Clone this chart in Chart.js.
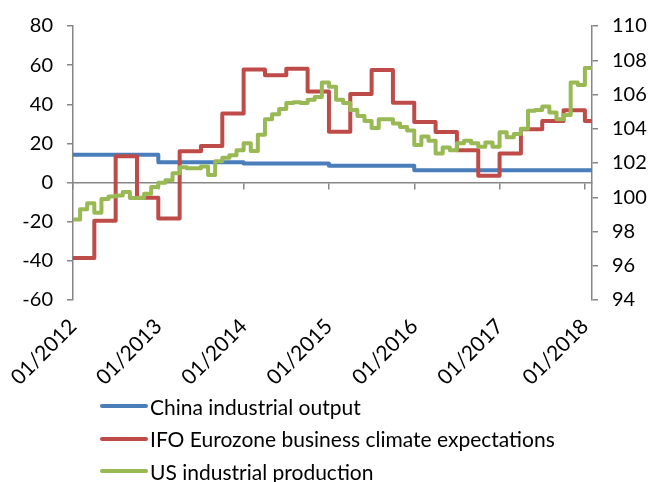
<!DOCTYPE html>
<html lang="en">
<head>
<meta charset="UTF-8">
<title>Industrial output vs business climate</title>
<script src="https://cdn.jsdelivr.net/npm/chart.js"></script>
<style>
    body { margin: 0; background: #fff; }
    .wrap { position: relative; width: 664px; height: 482px; }
    .legend {
        position: absolute;
        left: 100px;
        top: 390px;
        font-family: Lato, sans-serif;
        font-size: 21px;
        color: #000;
    }
    .legend div { height: 32.5px; display: flex; align-items: center; }
    .legend span.sw { display: inline-block; width: 48px; height: 4px; border-radius: 2px; margin-right: 2px; }
</style>
</head>
<body>
<div class="wrap">
    <canvas id="chart" width="664" height="482"></canvas>
    <div class="legend" id="legend"></div>
</div>
<script>
// x axis: months since 01/2012
const xLabels = ['01/2012', '01/2013', '01/2014', '01/2015', '01/2016', '01/2017', '01/2018'];
const lastMonth = 73;

// China industrial output (yearly, % y/y)
const chinaValues = [14.2, 10.4, 9.7, 8.6, 6.3, 6.3, 6.3];

// IFO Eurozone business climate expectations (quarterly)
const ifoValues = [-38.5, -19.5, 13.5, -7.8, -18.3, 16, 18.7, 35.3, 57.8, 54.8, 58.2, 46.5,
    26, 45.3, 57.5, 40.8, 31, 25.8, 16.5, 3.5, 14.8, 27.3, 31.5, 37, 31.5];

// US industrial production (monthly index, right axis)
const usValues = [98.7, 99.3, 99.65, 99.1, 99.9, 100.05, 100.1, 100.3, 99.95, 99.95, 100.2, 100.6,
    100.85, 101.0, 101.4, 101.75, 101.7, 101.7, 101.8, 101.3, 102.1, 102.3, 102.45, 102.75,
    103.15, 102.7, 103.65, 104.55, 104.85, 105.15, 105.5, 105.55, 105.5, 105.7, 105.85, 106.7,
    106.45, 105.7, 105.5, 105.1, 104.75, 104.45, 104.05, 104.55, 104.55, 104.3, 104.1, 103.9,
    103.05, 103.55, 103.3, 102.55, 102.9, 102.75, 103.15, 103.3, 103.15, 102.95, 103.2, 102.95,
    103.8, 103.5, 103.7, 104.0, 105.05, 105.1, 105.3, 104.95, 104.55, 104.8, 106.7, 106.55,
    107.55];

// turn values into step points (each value holds until the next one)
function steps(values, every) {
    const pts = values.map((v, i) => ({ x: i * every, y: v }));
    pts.push({ x: lastMonth, y: values[values.length - 1] });
    return pts;
}

const axisGrey = '#868686';
const font = { family: 'Lato, sans-serif', size: 20 };

const datasets = [
    { label: 'China industrial output', data: steps(chinaValues, 12), borderColor: '#4a7ebb', yAxisID: 'y', order: 3 },
    { label: 'IFO Eurozone business climate expectations', data: steps(ifoValues, 3), borderColor: '#be4b48', yAxisID: 'y', order: 2 },
    { label: 'US industrial production', data: steps(usValues, 1), borderColor: '#98b954', yAxisID: 'y2', order: 1 }
];
datasets.forEach(d => {
    d.stepped = true;
    d.borderWidth = 4;
    d.pointRadius = 0;
    d.fill = false;
    d.borderJoinStyle = 'round';
    d.borderCapStyle = 'round';
});

const chart = new Chart(document.getElementById('chart'), {
    type: 'line',
    data: { datasets: datasets },
    options: {
        responsive: false,
        animation: false,
        layout: { padding: { top: 20, left: 0, right: 0, bottom: 0 } },
        plugins: { legend: { display: false }, tooltip: { enabled: false } },
        scales: {
            x: {
                type: 'linear',
                min: 0,
                max: lastMonth,
                grid: { display: false },
                border: { display: false },
                ticks: {
                    stepSize: 12,
                    includeBounds: false,
                    autoSkip: false,
                    maxRotation: 45,
                    minRotation: 45,
                    padding: 6,
                    color: '#000',
                    font: { family: 'Lato, sans-serif', size: 21 },
                    callback: v => xLabels[v / 12] || ''
                },
                afterFit: s => { s.height = 182; }
            },
            // axis line through zero with its tick marks
            x2: {
                type: 'linear',
                position: { y: 0 },
                min: 0,
                max: lastMonth,
                grid: { drawOnChartArea: false, drawTicks: true, tickLength: 6, color: axisGrey, lineWidth: 1.5 },
                border: { color: axisGrey, width: 1.5 },
                ticks: { stepSize: 12, includeBounds: false, display: false }
            },
            y: {
                position: 'left',
                min: -60,
                max: 80,
                grid: { drawOnChartArea: false, tickLength: 6, color: axisGrey, lineWidth: 1.5 },
                border: { color: axisGrey, width: 1.5 },
                ticks: { stepSize: 20, padding: 14, color: '#000', font: font },
                afterFit: s => { s.width = 73; }
            },
            y2: {
                position: 'right',
                min: 94,
                max: 110,
                grid: { drawOnChartArea: false, tickLength: 6, color: axisGrey, lineWidth: 1.5 },
                border: { color: axisGrey, width: 1.5 },
                ticks: { stepSize: 2, padding: 14, color: '#000', font: font },
                afterFit: s => { s.width = 72; }
            }
        }
    }
});

// legend stacked like the original
const legend = document.getElementById('legend');
chart.data.datasets.forEach(ds => {
    const row = document.createElement('div');
    row.innerHTML = '<span class="sw" style="background:' + ds.borderColor + '"></span>' + ds.label;
    legend.appendChild(row);
});
</script>
</body>
</html>
